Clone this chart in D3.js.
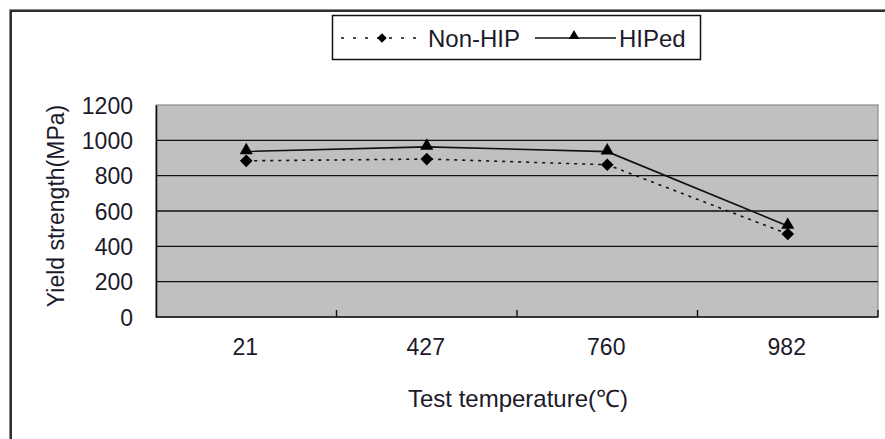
<!DOCTYPE html>
<html>
<head>
<meta charset="utf-8">
<script src="https://cdn.jsdelivr.net/npm/d3@7"></script>
<style>
  html, body { margin: 0; padding: 0; background: #fff; }
  svg { display: block; }
  text { font-family: "Liberation Sans", Arial, sans-serif; fill: #1c1a2a; }
</style>
</head>
<body>
<svg id="chart" width="885" height="439"></svg>
<script>
// Yield strength vs. test temperature
const categories = ["21", "427", "760", "982"];
const nonHip = [884, 894, 862, 470];
const hiped = [937, 963, 936, 515];
const yTicks = [0, 200, 400, 600, 800, 1000, 1200];
const seriesNames = ["Non-HIP", "HIPed"];

const W = 885, H = 439;
const plot = { left: 156, right: 878, top: 105, bottom: 317 };

const svg = d3.select("#chart");

// Outer frame (left and top edges visible)
svg.append("path")
  .attr("d", `M10.5,${H} V10.5 H${W}`)
  .attr("fill", "none").attr("stroke", "#888").attr("stroke-width", 3);
svg.append("path")
  .attr("d", `M11,${H} V11 H${W}`)
  .attr("fill", "none").attr("stroke", "#111").attr("stroke-width", 1.5);

const x = d3.scaleBand().domain(categories).range([plot.left, plot.right]).padding(0);
const y = d3.scaleLinear().domain([0, 1200]).range([plot.bottom, plot.top]);
const cx = d => x(d) + x.bandwidth() / 2;

// Plot area
svg.append("rect")
  .attr("x", plot.left).attr("y", plot.top)
  .attr("width", plot.right - plot.left).attr("height", plot.bottom - plot.top)
  .attr("fill", "#c0c0c0").attr("stroke", "#8a8a8a").attr("stroke-width", 1.2);

// Gridlines
svg.append("g").selectAll("line")
  .data(yTicks.filter(v => v > 0 && v < 1200))
  .join("line")
  .attr("x1", plot.left).attr("x2", plot.right)
  .attr("y1", d => y(d)).attr("y2", d => y(d))
  .attr("stroke", "#111").attr("stroke-width", 1.4);

// Y axis
const yAxis = svg.append("g")
  .attr("transform", `translate(${plot.left},0)`)
  .call(d3.axisLeft(y).tickValues(yTicks).tickFormat(d3.format("d")).tickSize(0).tickPadding(23));
yAxis.select(".domain").attr("stroke", "#111").attr("stroke-width", 1.6);
yAxis.selectAll("text")
  .attr("font-size", 23).attr("font-family", "Liberation Sans, Arial, sans-serif")
  .attr("fill", "#221c33").attr("dy", "0.36em");

// X axis: ticks between categories, pointing inward
const xAxisG = svg.append("g").attr("transform", `translate(0,${plot.bottom})`);
xAxisG.append("line")
  .attr("x1", plot.left).attr("x2", plot.right)
  .attr("stroke", "#111").attr("stroke-width", 1.6);
const boundaries = categories.map(c => x(c) + x.bandwidth());
xAxisG.selectAll("line.tk").data(boundaries).join("line")
  .attr("class", "tk")
  .attr("x1", d => d).attr("x2", d => d)
  .attr("y1", 0).attr("y2", -7)
  .attr("stroke", "#111").attr("stroke-width", 1.4);
xAxisG.selectAll("text").data(categories).join("text")
  .attr("x", d => cx(d) - 1).attr("y", 38)
  .attr("text-anchor", "middle")
  .attr("font-size", 23)
  .attr("fill", "#221c33")
  .text(d => d);

// Axis titles
svg.append("text")
  .attr("x", 518).attr("y", 407)
  .attr("text-anchor", "middle").attr("font-size", 24)
  .text("Test temperature(℃)");
svg.append("text")
  .attr("transform", "translate(64,206) rotate(-90)")
  .attr("text-anchor", "middle").attr("font-size", 23)
  .attr("fill", "#333")
  .text("Yield strength(MPa)");

// Series lines
const line = d3.line().x((d, i) => cx(categories[i])).y(d => y(d));
svg.append("path").datum(nonHip)
  .attr("d", line).attr("fill", "none")
  .attr("stroke", "#111").attr("stroke-width", 1.6).attr("stroke-dasharray", "3,5");
svg.append("path").datum(hiped)
  .attr("d", line).attr("fill", "none")
  .attr("stroke", "#111").attr("stroke-width", 1.6);

// Markers: square diamonds and triangles
const diamond = d3.symbol().type(d3.symbolSquare).size(80);
const triangle = d3.symbol().type(d3.symbolTriangle).size(75);
svg.append("g").selectAll("path").data(nonHip).join("path")
  .attr("d", diamond)
  .attr("transform", (d, i) => `translate(${cx(categories[i])},${y(d)}) rotate(45)`)
  .attr("fill", "#000");
svg.append("g").selectAll("path").data(hiped).join("path")
  .attr("d", triangle)
  .attr("transform", (d, i) => `translate(${cx(categories[i])},${y(d) - 1})`)
  .attr("fill", "#000");

// Legend
const lg = svg.append("g");
lg.append("rect")
  .attr("x", 332.5).attr("y", 15.5).attr("width", 368).attr("height", 44)
  .attr("fill", "#fff").attr("stroke", "#111").attr("stroke-width", 1.5);
lg.append("line")
  .attr("x1", 341).attr("x2", 419).attr("y1", 38).attr("y2", 38)
  .attr("stroke", "#111").attr("stroke-width", 1.6).attr("stroke-dasharray", "3,9");
lg.append("path").attr("d", d3.symbol().type(d3.symbolSquare).size(45))
  .attr("transform", "translate(382,38) rotate(45)").attr("fill", "#000");
lg.append("text").attr("x", 428).attr("y", 47).attr("font-size", 24)
  .attr("fill", "#2a1a3a").text(seriesNames[0]);
lg.append("line")
  .attr("x1", 535).attr("x2", 616).attr("y1", 38).attr("y2", 38)
  .attr("stroke", "#111").attr("stroke-width", 1.6);
lg.append("path").attr("d", d3.symbol().type(d3.symbolTriangle).size(48))
  .attr("transform", "translate(574,36)").attr("fill", "#000");
lg.append("text").attr("x", 619).attr("y", 47).attr("font-size", 24)
  .attr("fill", "#2a1a3a").text(seriesNames[1]);
</script>
</body>
</html>
